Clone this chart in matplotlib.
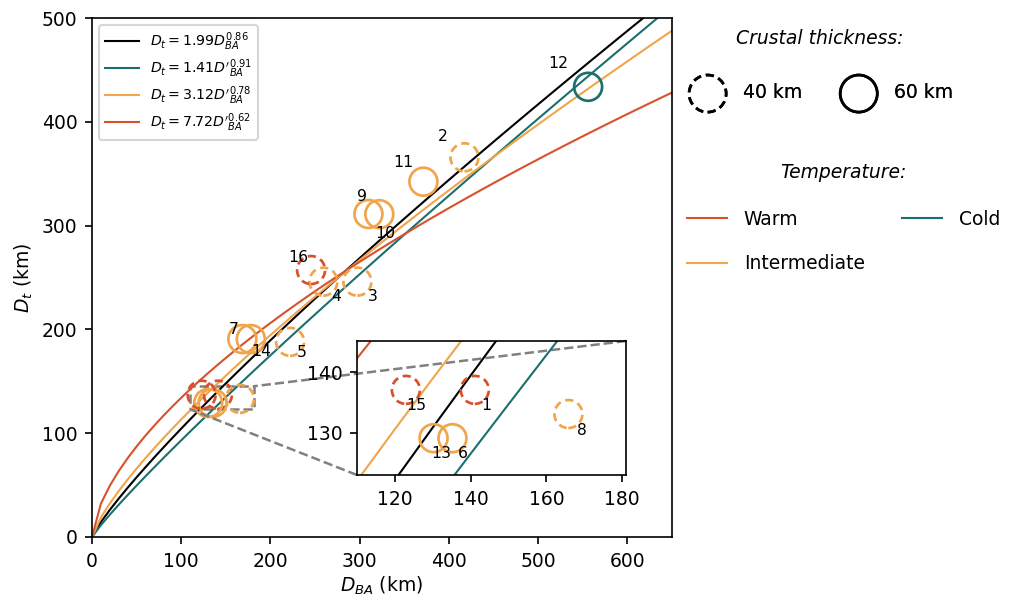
import numpy as np
import matplotlib
matplotlib.use('Agg')
import matplotlib.pyplot as plt
from matplotlib.lines import Line2D
from mpl_toolkits.axes_grid1.inset_locator import mark_inset

# fit curves  D_t = a * D_BA^b
fit_a = [1.99, 1.41, 3.12, 7.72]
fit_b = [0.86, 0.91, 0.78, 0.62]
fit_labels = [r'$D_t = 1.99D_{BA}^{0.86}$',
              r"$D_t = 1.41D'^{0.91}_{BA}$",
              r"$D_t = 3.12D'^{0.78}_{BA}$",
              r"$D_t = 7.72D'^{0.62}_{BA}$"]
fit_colors = ['black', '#1b6f6c', '#f0a54a', '#d9512c']

# observations
ids = [1, 2, 3, 4, 5, 6, 7, 8, 9, 10, 11, 12, 13, 14, 15, 16]
d_ba = [141.1, 417.4, 297.4, 259.3, 222.0, 135.2, 168.5, 165.8, 309.8, 322.0, 371.4, 556.0, 130.2, 178.0, 122.9, 245.5]
d_t = [137.1, 365.8, 246.0, 246.0, 188.0, 129.1, 190.7, 133.1, 311.2, 311.0, 342.3, 433.7, 129.1, 190.7, 137.1, 257.2]
temp = ['warm', 'int', 'int', 'int', 'int', 'int', 'int', 'int', 'int', 'int', 'int', 'cold', 'int', 'int', 'warm', 'warm']
crust = [40, 40, 40, 40, 40, 60, 60, 40, 60, 60, 60, 60, 60, 60, 40, 40]

temp_colors = {'warm': '#d9512c', 'int': '#f0a54a', 'cold': '#1b6f6c'}

# label offsets (pixels) relative to the circle
lab_off = {1: (11, -16), 2: (-22, 21), 3: (15, -15), 4: (13, -15), 5: (12, -11),
           6: (10, -15), 7: (-9, 10), 8: (13, -16), 9: (-6, 17), 10: (6, -19),
           11: (-20, 19), 12: (-30, 23), 13: (8, -15), 14: (10, -12),
           15: (10, -16), 16: (-13, 13)}
inset_ids = [1, 6, 8, 13, 15]

DPI = 150
px = 72 / DPI
FS = 9
DASH = (0, (3.0, 1.8))
fig = plt.figure(figsize=(1014 / DPI, 597 / DPI), dpi=DPI)
ax = fig.add_axes([92 / 1014, 1 - 537 / 597, 580 / 1014, 519 / 597])

x = np.arange(0, 660, 10)
for a, b, lab, c in zip(fit_a, fit_b, fit_labels, fit_colors):
    ax.plot(x, a * x ** b, color=c, lw=1.0, label=lab)


def draw_points(axis, labelled, s=180):
    for i, xx, yy, t, cr in zip(ids, d_ba, d_t, temp, crust):
        ls = DASH if cr == 40 else '-'
        axis.scatter([xx], [yy], s=s, facecolors='none', edgecolors=temp_colors[t],
                     linewidths=1.3, linestyle=ls, zorder=3)
        if labelled(i):
            dx, dy = lab_off[i]
            axis.annotate(str(i), (xx, yy), xytext=(dx * px, dy * px),
                          textcoords='offset points', ha='center', va='center',
                          fontsize=7.5, zorder=4)


draw_points(ax, lambda i: i not in inset_ids)

ax.set_xlim(0, 650)
ax.set_ylim(0, 500)
ax.set_xticks(range(0, 700, 100))
ax.set_yticks(range(0, 600, 100))
ax.tick_params(labelsize=FS)
ax.set_xlabel(r'$D_{BA}$ (km)', fontsize=FS, labelpad=2)
ax.set_ylabel(r'$D_t$ (km)', fontsize=FS, labelpad=3)
ax.legend(loc='upper left', fontsize=6.8, handlelength=2.4, labelspacing=0.3,
          borderaxespad=0.5)

# inset
axins = fig.add_axes([357 / 1014, 1 - 475 / 597, 269 / 1014, 134 / 597])
for a, b, c in zip(fit_a, fit_b, fit_colors):
    axins.plot(x, a * x ** b, color=c, lw=1.0)
draw_points(axins, lambda i: i in inset_ids)
axins.set_xlim(110, 181)
axins.set_ylim(123, 145.2)
axins.set_xticks([120, 140, 160, 180])
axins.set_yticks([130, 140])
axins.tick_params(labelsize=FS)
mark_inset(ax, axins, loc1=1, loc2=3, fc='none', ec='0.5', ls='--', lw=1.2)

# right-hand legends
fig.text(820 / 1014, 1 - 38 / 597, 'Crustal thickness:', style='italic',
         fontsize=FS, ha='center', va='center')
h40 = plt.scatter([], [], s=317, facecolors='none', edgecolors='black',
                  linewidths=1.3, linestyle=DASH)
h60 = plt.scatter([], [], s=317, facecolors='none', edgecolors='black', linewidths=1.3)
leg1 = fig.legend([h40, h60], ['40 km', '60 km'], ncol=2, loc='center left',
                  bbox_to_anchor=(687 / 1014, 1 - 93 / 597), frameon=False,
                  borderpad=0, borderaxespad=0, fontsize=FS, columnspacing=1.9,
                  handlelength=2.2, handletextpad=0.8)
fig.add_artist(leg1)

fig.text(843 / 1014, 1 - 172 / 597, 'Temperature:', style='italic',
         fontsize=FS, ha='center', va='center')
temp_handles = [Line2D([], [], color='#d9512c', lw=1.0),
                Line2D([], [], color='#f0a54a', lw=1.0),
                Line2D([], [], color='#1b6f6c', lw=1.0)]
fig.legend(temp_handles, ['Warm', 'Intermediate', 'Cold'], ncol=2, loc='center left',
           bbox_to_anchor=(687 / 1014, 1 - 241.5 / 597), frameon=False,
           borderpad=0, borderaxespad=0, fontsize=FS, columnspacing=2.0,
           labelspacing=1.35, handlelength=2.13, handletextpad=0.9)

fig.savefig('out.png', dpi=DPI)
